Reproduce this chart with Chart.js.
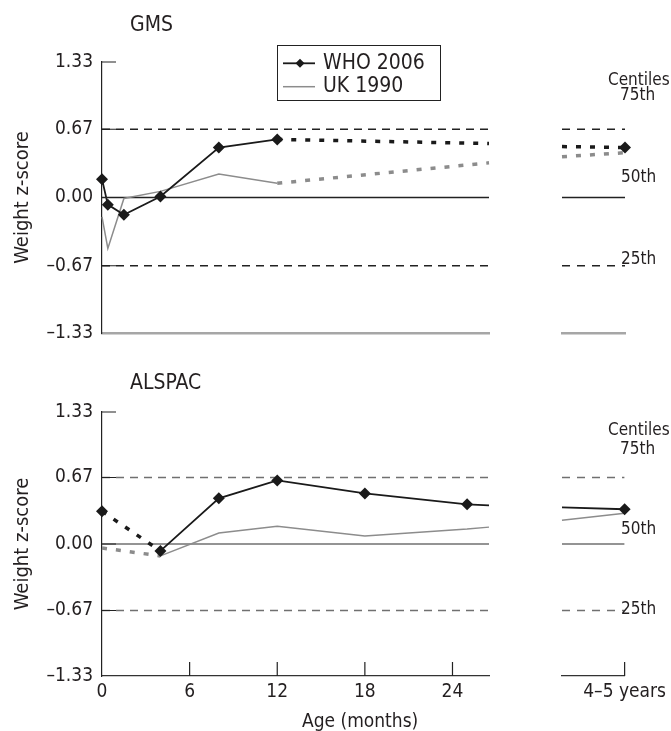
<!DOCTYPE html>
<html>
<head>
<meta charset="utf-8">
<script src="https://cdn.jsdelivr.net/npm/chart.js@4.4.1/dist/chart.umd.min.js"></script>
<style>
  html, body { margin: 0; padding: 0; background: #fff; }
  #wrap { position: relative; width: 671px; height: 731px; overflow: hidden; font-family: "DejaVu Sans Condensed", "DejaVu Sans", sans-serif; color: #231f20; }
  canvas { position: absolute; }
  .lbl { position: absolute; line-height: 1; white-space: nowrap; }
</style>
</head>
<body>
<div id="wrap">
  <canvas id="gmsMain" width="500" height="355" style="left:0;top:0;width:500px;height:355px"></canvas>
  <canvas id="gmsLater" width="131" height="355" style="left:540px;top:0;width:131px;height:355px"></canvas>
  <canvas id="alsMain" width="500" height="381" style="left:0;top:350px;width:500px;height:381px"></canvas>
  <canvas id="alsLater" width="131" height="381" style="left:540px;top:350px;width:131px;height:381px"></canvas>

  <div class="lbl" style="left:130px;top:14px;font-size:21px">GMS</div>
  <div class="lbl" style="left:130px;top:372px;font-size:21px">ALSPAC</div>

  <div style="position:absolute;left:277px;top:45px;width:162px;height:54px;border:1.5px solid #222"></div>
  <svg style="position:absolute;left:280px;top:55px" width="40" height="40">
    <line x1="3" y1="8.3" x2="35" y2="8.3" stroke="#1a1a1a" stroke-width="1.8"/>
    <polygon points="20,3.8 24.5,8.3 20,12.8 15.5,8.3" fill="#1a1a1a"/>
    <line x1="3" y1="31.7" x2="35" y2="31.7" stroke="#8c8c8c" stroke-width="1.5"/>
  </svg>
  <div class="lbl" style="left:323px;top:52px;font-size:21px">WHO 2006</div>
  <div class="lbl" style="left:323px;top:75px;font-size:21px">UK 1990</div>

  <div class="lbl" style="left:608px;top:71px;font-size:17px">Centiles</div>
  <div class="lbl" style="left:620px;top:86px;font-size:17px">75th</div>
  <div class="lbl" style="left:621px;top:168px;font-size:17px">50th</div>
  <div class="lbl" style="left:621px;top:250px;font-size:17px">25th</div>

  <div class="lbl" style="left:608px;top:421px;font-size:17px">Centiles</div>
  <div class="lbl" style="left:620px;top:440px;font-size:17px">75th</div>
  <div class="lbl" style="left:621px;top:520px;font-size:17px">50th</div>
  <div class="lbl" style="left:621px;top:600px;font-size:17px">25th</div>

  <div class="lbl" style="left:302px;top:711px;font-size:19px">Age (months)</div>
</div>

<script>
// GMS cohort, weight z-scores by age in months
const gmsAges = [0, 0.4, 1.5, 4, 8, 12, 26.5];
const gmsWho = [0.18, -0.07, -0.17, 0.01, 0.49, 0.57, 0.53];
const gmsUk = [-0.19, -0.50, -0.01, 0.06, 0.23, 0.14, 0.34];
// ALSPAC cohort
const alspacAges = [0, 4, 8, 12, 18, 25, 26.5];
const alspacWho = [0.33, -0.07, 0.46, 0.64, 0.51, 0.40, 0.39];
const alspacUk = [-0.04, -0.12, 0.11, 0.18, 0.08, 0.15, 0.17];
// 4-5 years panel (line coming in from the break, then the 4-5 y value)
const laterX = [0, 1];
const gmsWhoLater = [0.50, 0.49];
const gmsUkLater = [0.40, 0.44];
const alspacWhoLater = [0.37, 0.35];
const alspacUkLater = [0.24, 0.31];

const centileZ = [0.67, 0, -0.67];
const yTicks = [-1.33, -0.67, 0, 0.67, 1.33];
const yTickLabels = ['–1.33', '–0.67', '0.00', '0.67', '1.33'];
const ageTicks = [0, 6, 12, 18, 24];
const laterTicks = [1];
const laterTickLabels = ['4–5 years'];

const FONT = '"DejaVu Sans Condensed", "DejaVu Sans", sans-serif';
const TEXT = '#231f20';
const BLACK = '#1a1a1a';
const GREY = '#8c8c8c';
const DOTS = [5, 9];

// short tick marks drawn inside the plot area
const inwardTicks = {
    id: 'inwardTicks',
    afterDatasetsDraw(chart, args, opts) {
        const { ctx, chartArea, scales } = chart;
        ctx.save();
        ctx.strokeStyle = '#222';
        ctx.lineWidth = 1.2;
        ctx.beginPath();
        if (opts.y) {
            scales.y.ticks.forEach(t => {
                if (t.value === scales.y.min) return;
                const py = scales.y.getPixelForValue(t.value);
                ctx.moveTo(chartArea.left, py);
                ctx.lineTo(chartArea.left + 14, py);
            });
        }
        if (opts.x) {
            scales.x.ticks.forEach(t => {
                if (t.value === scales.x.min) return;
                const px = scales.x.getPixelForValue(t.value);
                ctx.moveTo(px, chartArea.bottom);
                ctx.lineTo(px, chartArea.bottom - 14);
            });
        }
        ctx.stroke();
        ctx.restore();
    }
};

function pts(xs, ys) {
    return xs.map((x, i) => ({ x: x, y: ys[i] }));
}

function refLines(x0, x1, color, dash) {
    return centileZ.map(z => ({
        data: [{ x: x0, y: z }, { x: x1, y: z }],
        borderColor: color,
        borderWidth: z === 0 ? 1.4 : 1.3,
        borderDash: z === 0 ? [] : dash,
        pointRadius: 0
    }));
}

function yScale(show) {
    return {
        min: -1.33,
        max: 1.33,
        display: show,
        afterBuildTicks: axis => { axis.ticks = yTicks.map(v => ({ value: v })); },
        afterFit: s => { s.width = show ? 102 : 0; },
        grid: { display: false, drawTicks: false },
        border: { display: true, color: '#222', width: 1.2 },
        ticks: {
            padding: 9,
            color: TEXT,
            font: { family: FONT, size: 19 },
            callback: (v, i) => yTickLabels[i]
        },
        title: {
            display: true,
            text: 'Weight z-score',
            color: TEXT,
            font: { family: FONT, size: 20 },
            padding: { top: 11, bottom: 0 }
        }
    };
}

function xScale(min, max, tickVals, tickLabels, axisColor, axisWidth, labelled) {
    return {
        type: 'linear',
        min: min,
        max: max,
        afterBuildTicks: axis => { axis.ticks = tickVals.map(v => ({ value: v })); },
        afterFit: s => { s.height = labelled ? 40 : 22; },
        grid: { display: false, drawTicks: false },
        border: { display: true, color: axisColor, width: axisWidth },
        ticks: {
            display: labelled,
            padding: 5,
            maxRotation: 0,
            color: TEXT,
            font: { family: FONT, size: 19 },
            callback: (v, i) => tickLabels[i]
        }
    };
}

function baseOptions(padding, scales, tickOpts) {
    return {
        responsive: false,
        animation: false,
        events: [],
        layout: { padding: padding },
        scales: scales,
        plugins: {
            legend: { display: false },
            tooltip: { enabled: false },
            inwardTicks: tickOpts
        }
    };
}

function whoSet(data, radii, dottedIdx, dotted) {
    return {
        data: data,
        borderColor: BLACK,
        borderWidth: 1.8,
        pointStyle: 'rectRot',
        pointRadius: radii,
        pointBackgroundColor: BLACK,
        pointBorderWidth: 0,
        clip: false,
        segment: {
            borderDash: ctx => (dotted || ctx.p0DataIndex === dottedIdx) ? DOTS : undefined,
            borderWidth: ctx => (dotted || ctx.p0DataIndex === dottedIdx) ? 3.5 : undefined
        }
    };
}

function ukSet(data, dottedIdx, dotted) {
    return {
        data: data,
        borderColor: GREY,
        borderWidth: 1.5,
        pointRadius: 0,
        clip: false,
        segment: {
            borderDash: ctx => (dotted || ctx.p0DataIndex === dottedIdx) ? DOTS : undefined,
            borderWidth: ctx => (dotted || ctx.p0DataIndex === dottedIdx) ? 3.5 : undefined
        }
    };
}

const ageMax = 26.5;

// GMS, first two years
new Chart(document.getElementById('gmsMain'), {
    type: 'line',
    data: {
        datasets: [
            whoSet(pts(gmsAges, gmsWho), [6, 6, 6, 6, 6, 6, 0], 5, false),
            ukSet(pts(gmsAges, gmsUk), 5, false),
            ...refLines(0, ageMax, '#222', [8, 6])
        ]
    },
    options: baseOptions({ left: 0, right: 11, top: 62, bottom: 0 }, {
        x: xScale(0, ageMax, ageTicks, ageTicks.map(String), '#a6a6a6', 2.5, false),
        y: yScale(true)
    }, { y: true, x: false }),
    plugins: [inwardTicks]
});

// GMS, 4-5 years
new Chart(document.getElementById('gmsLater'), {
    type: 'line',
    data: {
        datasets: [
            whoSet(pts(laterX, gmsWhoLater), [0, 6], -1, true),
            ukSet(pts(laterX, gmsUkLater), -1, true),
            ...refLines(0, 1, '#222', [8, 7])
        ]
    },
    options: baseOptions({ left: 22, right: 46, top: 62, bottom: 0 }, {
        x: xScale(0, 1, laterTicks, laterTickLabels, '#a6a6a6', 2.5, false),
        y: yScale(false)
    }, { y: false, x: false }),
    plugins: [inwardTicks]
});

// ALSPAC, first two years
new Chart(document.getElementById('alsMain'), {
    type: 'line',
    data: {
        datasets: [
            whoSet(pts(alspacAges, alspacWho), [6, 6, 6, 6, 6, 6, 0], 0, false),
            ukSet(pts(alspacAges, alspacUk), 0, false),
            ...refLines(0, ageMax, '#707070', [8, 6])
        ]
    },
    options: baseOptions({ left: 0, right: 11, top: 62, bottom: 15 }, {
        x: xScale(0, ageMax, ageTicks, ageTicks.map(String), '#333', 1.2, true),
        y: yScale(true)
    }, { y: true, x: true }),
    plugins: [inwardTicks]
});

// ALSPAC, 4-5 years
new Chart(document.getElementById('alsLater'), {
    type: 'line',
    data: {
        datasets: [
            whoSet(pts(laterX, alspacWhoLater), [0, 6], -1, false),
            ukSet(pts(laterX, alspacUkLater), -1, false),
            ...refLines(0, 1, '#707070', [8, 7])
        ]
    },
    options: baseOptions({ left: 22, right: 46, top: 62, bottom: 15 }, {
        x: xScale(0, 1, laterTicks, laterTickLabels, '#333', 1.2, true),
        y: yScale(false)
    }, { y: false, x: true }),
    plugins: [inwardTicks]
});
</script>
</body>
</html>
